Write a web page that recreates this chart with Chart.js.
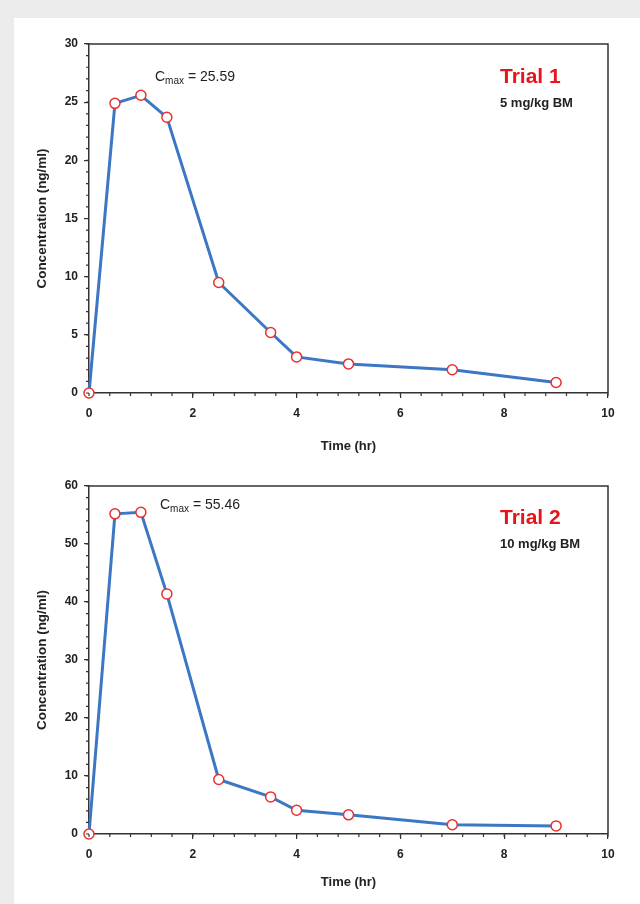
<!DOCTYPE html>
<html>
<head>
<meta charset="utf-8">
<script src="https://cdn.jsdelivr.net/npm/chart.js@4/dist/chart.umd.min.js"></script>
<style>
  html, body { margin: 0; padding: 0; background: #ebebeb; }
  body { width: 640px; height: 904px; position: relative; overflow: hidden; }
  #panel { position: absolute; left: 14px; top: 18px; right: 0; bottom: 0; background: #fff; }
  .box { position: absolute; left: 0; width: 640px; }
  #b1 { top: 0; height: 460px; }
  #b2 { top: 440px; height: 464px; }
</style>
</head>
<body>
<div id="panel"></div>
<div class="box" id="b1"><canvas id="trial1"></canvas></div>
<div class="box" id="b2"><canvas id="trial2"></canvas></div>
<script>
// sampling times (hr)
const times = [0, 0.5, 1, 1.5, 2.5, 3.5, 4, 5, 7, 9];
// concentration (ng/ml)
const trial1 = [0, 24.9, 25.59, 23.7, 9.5, 5.2, 3.1, 2.5, 2.0, 0.9];
const trial2 = [0, 55.2, 55.46, 41.4, 9.4, 6.4, 4.1, 3.3, 1.6, 1.4];
const xTicks = [0, 2, 4, 6, 8, 10];
const yTicks1 = [0, 5, 10, 15, 20, 25, 30];
const yTicks2 = [0, 10, 20, 30, 40, 50, 60];

const axisCol = '#333';
const lineCol = '#3b77c4';
const dotCol = '#e8312f';

// frame, minor ticks and text notes
const decor = {
  id: 'decor',
  afterDatasetsDraw(chart, args, o) {
    const ctx = chart.ctx, a = chart.chartArea;
    const sx = chart.scales.x, sy = chart.scales.y;
    ctx.save();
    ctx.strokeStyle = axisCol;
    ctx.lineWidth = 1.5;
    ctx.beginPath();
    ctx.moveTo(a.left, a.top); ctx.lineTo(a.right, a.top); ctx.lineTo(a.right, a.bottom);
    ctx.stroke();
    ctx.lineWidth = 1.2;
    ctx.beginPath();
    for (let v = 0; v <= sx.max + 1e-9; v += o.minorX) {
      const px = sx.getPixelForValue(v);
      ctx.moveTo(px, a.bottom); ctx.lineTo(px, a.bottom + 3);
    }
    for (let v = 0; v <= sy.max + 1e-9; v += o.minorY) {
      const py = sy.getPixelForValue(v);
      ctx.moveTo(a.left, py); ctx.lineTo(a.left - 3, py);
    }
    ctx.stroke();

    // Cmax note
    ctx.fillStyle = '#222';
    ctx.textBaseline = 'middle';
    ctx.textAlign = 'left';
    let x = o.cx, y = o.cy;
    ctx.font = '14px "Liberation Sans", Arial, sans-serif';
    ctx.fillText('C', x, y);
    x += ctx.measureText('C').width;
    ctx.font = '10px "Liberation Sans", Arial, sans-serif';
    ctx.fillText('max', x, y + 4);
    x += ctx.measureText('max').width;
    ctx.font = '14px "Liberation Sans", Arial, sans-serif';
    ctx.fillText(' = ' + o.cmax, x, y);

    ctx.fillStyle = '#e8141c';
    ctx.font = 'bold 21px "Liberation Sans", Arial, sans-serif';
    ctx.fillText(o.title, o.tx, o.ty);
    ctx.fillStyle = '#222';
    ctx.font = 'bold 13px "Liberation Sans", Arial, sans-serif';
    ctx.fillText(o.dose, o.tx, o.ty + 26);
    ctx.restore();
  }
};

function makeChart(id, values, yMax, yTickList, opts) {
  return new Chart(document.getElementById(id), {
    type: 'line',
    data: {
      datasets: [{
        data: times.map((t, i) => ({ x: t, y: values[i] })),
        borderColor: lineCol,
        borderWidth: 3,
        pointRadius: 5,
        pointBorderWidth: 1.5,
        pointBackgroundColor: '#fff',
        pointBorderColor: dotCol,
        tension: 0,
        clip: false
      }]
    },
    options: {
      responsive: true,
      maintainAspectRatio: false,
      animation: false,
      layout: { padding: { left: 34, right: 32, top: opts.top, bottom: opts.bot } },
      plugins: { legend: { display: false }, tooltip: { enabled: false }, decor: opts },
      scales: {
        x: {
          type: 'linear', min: 0, max: 10,
          afterBuildTicks: s => { s.ticks = xTicks.map(v => ({ value: v })); },
          afterFit: s => { s.height = opts.xh; },
          border: { color: axisCol, width: 1.5 },
          grid: { drawOnChartArea: false, tickLength: 5, color: axisCol, lineWidth: 1.2 },
          ticks: { color: '#222', padding: 8, font: { family: '"Liberation Sans", Arial', size: 12, weight: 'bold' } },
          title: { display: true, text: 'Time (hr)', color: '#222', padding: { top: 4, bottom: 0 },
                   font: { family: '"Liberation Sans", Arial', size: 13, weight: 'bold' } }
        },
        y: {
          min: 0, max: yMax,
          afterBuildTicks: s => { s.ticks = yTickList.map(v => ({ value: v })); },
          afterFit: s => { s.width = 55; },
          border: { color: axisCol, width: 1.5 },
          grid: { drawOnChartArea: false, tickLength: 5, color: axisCol, lineWidth: 1.2 },
          ticks: { color: '#222', padding: 6, font: { family: '"Liberation Sans", Arial', size: 12, weight: 'bold' } },
          title: { display: true, text: 'Concentration (ng/ml)', color: '#222', padding: { top: 0, bottom: 4 },
                   font: { family: '"Liberation Sans", Arial', size: 13.5, weight: 'bold' } }
        }
      }
    },
    plugins: [decor]
  });
}

makeChart('trial1', trial1, 30, yTicks1,
  { top: 44, bot: 6, xh: 61, minorX: 0.4, minorY: 1,
    cmax: '25.59', cx: 155, cy: 77, title: 'Trial 1', dose: '5 mg/kg BM', tx: 500, ty: 77 });
makeChart('trial2', trial2, 60, yTicks2,
  { top: 46, bot: 14, xh: 56, minorX: 0.4, minorY: 2,
    cmax: '55.46', cx: 160, cy: 65, title: 'Trial 2', dose: '10 mg/kg BM', tx: 500, ty: 78 });
</script>
</body>
</html>
